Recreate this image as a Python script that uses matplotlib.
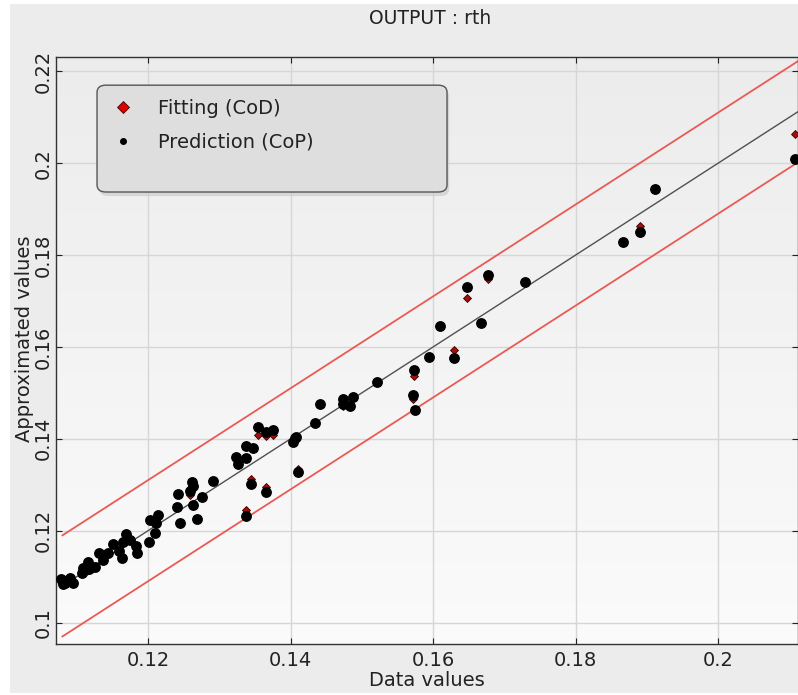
import numpy as np
import matplotlib
matplotlib.use("Agg")
from matplotlib import pyplot as plt
from matplotlib.colors import LinearSegmentedColormap
from matplotlib.patches import FancyBboxPatch, Rectangle
from matplotlib.lines import Line2D
from matplotlib.ticker import FormatStrFormatter

# valores (Data values x Approximated values)
data_vals = [0.1078, 0.1081, 0.1084, 0.1090, 0.1095, 0.1108, 0.1109, 0.1112, 0.1116, 0.1117,
             0.1126, 0.1131, 0.1137, 0.1144, 0.1151, 0.1159, 0.1164, 0.1165, 0.1169, 0.1175,
             0.1183, 0.1185, 0.1201, 0.1203, 0.1210, 0.1211, 0.1214, 0.1241, 0.1242, 0.1245,
             0.1262, 0.1263, 0.1259, 0.1263, 0.1269, 0.1276, 0.1291, 0.1323, 0.1327, 0.1337,
             0.1338, 0.1348, 0.1355, 0.1366, 0.1375, 0.1345, 0.1365, 0.1337, 0.1403, 0.1406,
             0.1408, 0.1410, 0.1434, 0.1442, 0.1473, 0.1474, 0.1484, 0.1488, 0.1522, 0.1572,
             0.1575, 0.1573, 0.1594, 0.1629, 0.1610, 0.1667, 0.1648, 0.1677, 0.1729, 0.1866,
             0.1891, 0.1912, 0.2108]

pred_cop = [0.1096, 0.1085, 0.1087, 0.1098, 0.1087, 0.1109, 0.1119, 0.1115, 0.1133, 0.1117,
            0.1122, 0.1152, 0.1137, 0.1152, 0.1172, 0.1156, 0.1141, 0.1176, 0.1193, 0.1180,
            0.1167, 0.1152, 0.1176, 0.1224, 0.1196, 0.1217, 0.1235, 0.1252, 0.1281, 0.1217,
            0.1307, 0.1298, 0.1287, 0.1257, 0.1226, 0.1274, 0.1309, 0.1361, 0.1346, 0.1359,
            0.1385, 0.1381, 0.1426, 0.1415, 0.1420, 0.1302, 0.1285, 0.1233, 0.1394, 0.1402,
            0.1405, 0.1328, 0.1435, 0.1476, 0.1487, 0.1476, 0.1472, 0.1492, 0.1524, 0.1496,
            0.1463, 0.1550, 0.1579, 0.1576, 0.1646, 0.1653, 0.1731, 0.1757, 0.1742, 0.1829,
            0.1851, 0.1944, 0.2010]

fit_cod = [0.1096, 0.1085, 0.1087, 0.1098, 0.1087, 0.1109, 0.1119, 0.1115, 0.1133, 0.1117,
           0.1122, 0.1152, 0.1137, 0.1152, 0.1172, 0.1156, 0.1141, 0.1176, 0.1193, 0.1180,
           0.1167, 0.1152, 0.1176, 0.1224, 0.1196, 0.1217, 0.1235, 0.1252, 0.1281, 0.1217,
           0.1307, 0.1298, 0.1278, 0.1257, 0.1226, 0.1274, 0.1309, 0.1361, 0.1346, 0.1359,
           0.1385, 0.1381, 0.1409, 0.1407, 0.1409, 0.1313, 0.1296, 0.1246, 0.1394, 0.1402,
           0.1405, 0.1335, 0.1435, 0.1476, 0.1487, 0.1472, 0.1472, 0.1492, 0.1524, 0.1487,
           0.1463, 0.1537, 0.1579, 0.1594, 0.1646, 0.1653, 0.1707, 0.1748, 0.1742, 0.1829,
           0.1864, 0.1944, 0.2064]

line_range = [0.108, 0.2115]
band = 0.011

xticks = [0.12, 0.14, 0.16, 0.18, 0.2]
yticks = [0.1, 0.12, 0.14, 0.16, 0.18, 0.2, 0.22]

fig = plt.figure(figsize=(7.98, 6.95), dpi=100, facecolor="white")
fig.patches.append(Rectangle((10/798, 2/695), 1, 1 - 6/695, transform=fig.transFigure,
                             facecolor="#ececec", edgecolor="none", zorder=-5))
ax = fig.add_axes([56/798, 51/695, 742/798, 587/695])

# fundo em degrade
cmap = LinearSegmentedColormap.from_list("bg", ["#fbfbfb", "#ececec"])
ax.imshow(np.linspace(0, 1, 256).reshape(-1, 1), extent=[0, 1, 0, 1], transform=ax.transAxes,
          cmap=cmap, aspect="auto", origin="lower", zorder=0)

xl = np.array(line_range)
ax.plot(xl, xl + band, color="#ea5a55", lw=1.3, zorder=2)
ax.plot(xl, xl - band, color="#ea5a55", lw=1.3, zorder=2)
ax.plot(xl, xl, color="#505050", lw=1.0, zorder=2)

ax.plot(data_vals, fit_cod, linestyle="none", marker="D", markersize=4.2,
        markerfacecolor="#a01010", markeredgecolor="#3a0000", markeredgewidth=0.6, zorder=3)
ax.plot(data_vals, pred_cop, linestyle="none", marker="o", markersize=6.8,
        color="black", zorder=4)

ax.set_xlim(0.1071, 0.2112)
ax.set_ylim(0.09536, 0.2231)
ax.set_xticks(xticks)
ax.set_yticks(yticks)
ax.xaxis.set_major_formatter(FormatStrFormatter("%g"))
ax.yaxis.set_major_formatter(FormatStrFormatter("%g"))
ax.tick_params(direction="in", length=4, width=0.8, top=True, right=True,
               labelsize=14, colors="#222222")
ax.tick_params(axis="x", pad=5)
ax.tick_params(axis="y", pad=2)
for lab in ax.get_yticklabels():
    lab.set_rotation(90)
    lab.set_va("center")
ax.set_axisbelow(True)
ax.grid(color="#d6d6d6", lw=1.0, zorder=0.5)
for s in ax.spines.values():
    s.set_color("#333333")
    s.set_linewidth(1.0)

ax.set_xlabel("Data values", fontsize=14, color="#222222", labelpad=1)
ax.set_ylabel("Approximated values", fontsize=14, color="#222222")
ax.yaxis.set_label_coords(-0.03, 0.52)
fig.text(430/798, 1 - 18/695, "OUTPUT : rth", fontsize=13.5, color="#222222",
         ha="center", va="center")

# caixa da legenda
box = FancyBboxPatch((0.0553, 0.770), 0.4717, 0.182, boxstyle="round,pad=0,rounding_size=0.012",
                     transform=ax.transAxes, facecolor="#dedede", edgecolor="#555555",
                     lw=1.0, zorder=5)
shadow = FancyBboxPatch((0.0583, 0.763), 0.4717, 0.182, boxstyle="round,pad=0,rounding_size=0.012",
                        transform=ax.transAxes, facecolor="#c8c8c8", edgecolor="none",
                        alpha=0.6, zorder=4.9)
ax.add_patch(shadow)
ax.add_patch(box)

handles = [Line2D([], [], linestyle="none", marker="D", markersize=6, markerfacecolor="#dd0000",
                  markeredgecolor="#550000", markeredgewidth=0.6),
           Line2D([], [], linestyle="none", marker="o", markersize=4, color="black")]
leg = ax.legend(handles, ["Fitting (CoD)", "Prediction (CoP)"], loc="upper left",
                bbox_to_anchor=(0.0647, 0.929), frameon=False, fontsize=14, borderpad=0,
                labelspacing=0.76, handletextpad=0.8, handlelength=2.0, borderaxespad=0)
leg.set_zorder(6)
for t in leg.get_texts():
    t.set_color("#222222")

plt.savefig("out.png", dpi=100, facecolor=fig.get_facecolor())
